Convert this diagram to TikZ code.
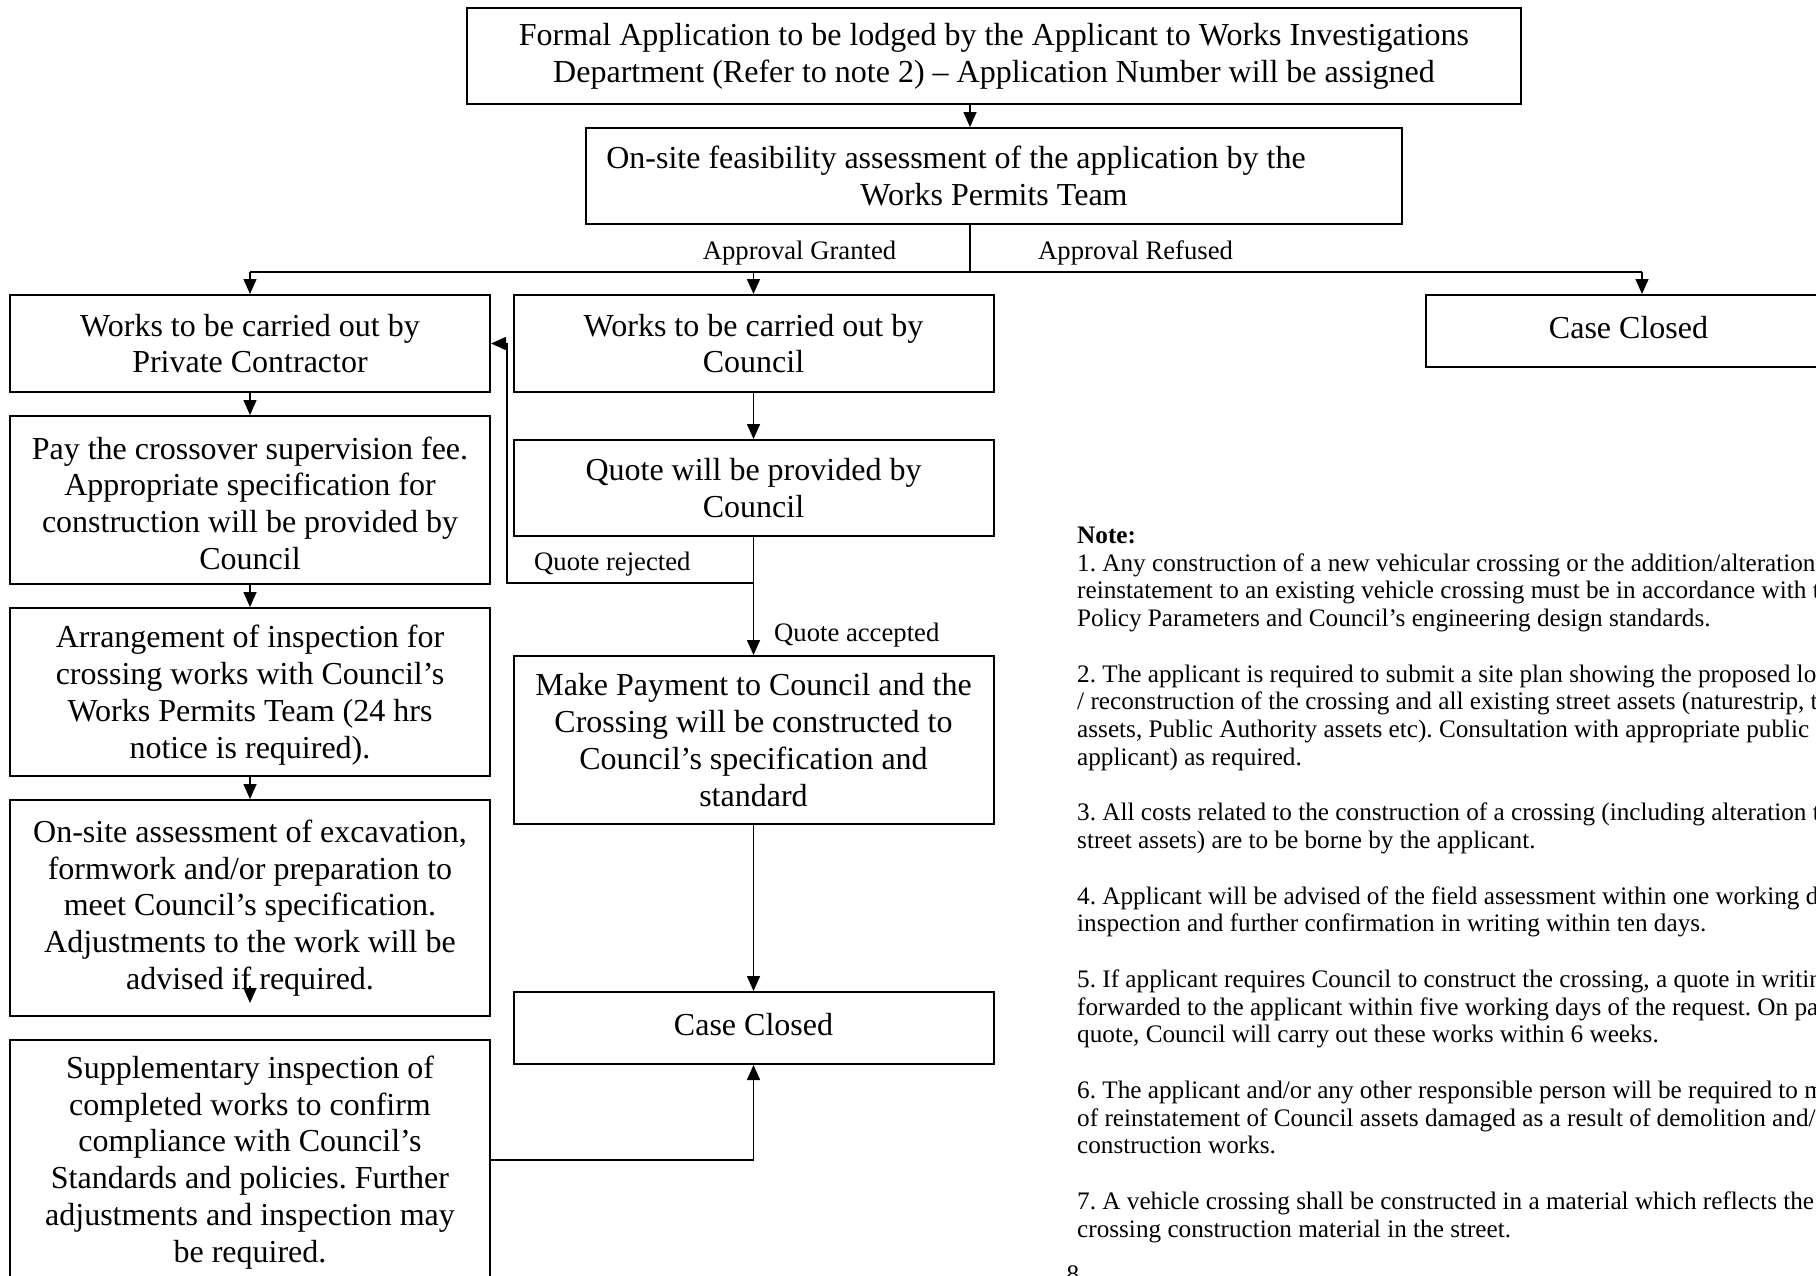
\documentclass[tikz,border=0pt]{standalone}
\usepackage{fontspec}
\setmainfont{Liberation Serif}
\usetikzlibrary{arrows.meta}
\frenchspacing
\tikzset{
  box/.style={draw, line width=2pt, inner sep=0pt, align=center,
    font=\fontsize{32}{36.8}\selectfont},
  lbl/.style={inner sep=0pt, font=\fontsize{26.67}{30}\selectfont},
  notefont/.style={inner sep=0pt, font=\fontsize{25.2}{27.75}\selectfont},
  conn/.style={line width=1.6pt},
  arr/.style={conn, -{Triangle[length=15pt,width=13pt]}},
}
\begin{document}
\begin{tikzpicture}[x=1pt,y=-1pt]
\useasboundingbox (0,0) rectangle (1816,1275);
\clip (0,0) rectangle (1816,1275);
\fill[white] (0,0) rectangle (1816,1275);

% boxes
\node[box, minimum width=1054pt, minimum height=96pt] (a) at (994,56)
  {Formal Application to be lodged by the Applicant to Works Investigations\\
   Department (Refer to note 2) -- Application Number will be assigned};
\node[box, minimum width=816pt, minimum height=96pt] (b) at (994,176)
  {On-site feasibility assessment of the application by the\hspace*{76pt}\mbox{}\\
   Works Permits Team};
\node[box, minimum width=480pt, minimum height=97pt] (c1) at (250,343.5)
  {Works to be carried out by\\Private Contractor};
\node[box, minimum width=480pt, minimum height=97pt] (c2) at (753.5,343.5)
  {Works to be carried out by\\Council};
\node[box, minimum width=405pt, minimum height=72pt] (r) at (1628.5,331)
  {Case Closed\strut};
\node[box, minimum width=480pt, minimum height=168pt] (d1) at (250,500)
  {\rule{0pt}{29pt}Pay the crossover supervision fee.\\Appropriate specification for\\
   construction will be provided by\\Council};
\node[box, minimum width=480pt, minimum height=96pt] (d2) at (753.5,488)
  {Quote will be provided by\\Council};
\node[box, minimum width=480pt, minimum height=168pt] (e1) at (250,692)
  {\rule{0pt}{29pt}Arrangement of inspection for\\crossing works with Council’s\\
   Works Permits Team (24 hrs\\notice is required).};
\node[box, minimum width=480pt, minimum height=168pt] (e2) at (753.5,740)
  {Make Payment to Council and the\\Crossing will be constructed to\\
   Council’s specification and\\standard};
\node[box, minimum width=480pt, minimum height=216pt] (f1) at (250,908)
  {On-site assessment of excavation,\\formwork and/or preparation to\\
   meet Council’s specification.\\Adjustments to the work will be\\
   advised if required.};
\node[box, minimum width=480pt, minimum height=245pt] (g1) at (250,1162.5)
  {Supplementary inspection of\\completed works to confirm\\
   compliance with Council’s\\Standards and policies. Further\\
   adjustments and inspection may\\be required.};
\node[box, minimum width=480pt, minimum height=72pt] (h2) at (753.5,1028)
  {Case Closed\strut};

% labels
\node[lbl, anchor=base west] (lg) at (702.7,259.3) {Approval Granted};
\node[lbl, anchor=base west] (lr) at (1038,259.3) {Approval Refused};
\node[lbl, anchor=base west] (lqr) at (534,570) {Quote rejected};
\node[lbl, anchor=base west] (lqa) at (774,641.7) {Quote accepted};

% connectors
\coordinate (ax) at (970,0);
\coordinate (split) at (970,272);
\coordinate (jl) at (250,272);
\coordinate (jr) at (1642,272);
\draw[arr] (a.south -| ax) -- (b.north -| ax);
\draw[conn] (b.south -| ax) -- (split);
\draw[conn] (jl) -- (jr);
\draw[arr] (jl) -- (c1.north);
\draw[arr] (c2.north |- split) -- (c2.north);
\draw[arr] (jr) -- (r.north -| jr);

\draw[arr] (c1.south) -- (d1.north);
\draw[arr] (d1.south) -- (e1.north);
\draw[arr] (e1.south) -- (f1.north);
\coordinate (fa) at (250,986);
\coordinate (fb) at (250,1003);
\draw[arr] (fa) -- (fb);

\draw[arr] (c2.south) -- (d2.north);
\draw[arr] (d2.south) -- (e2.north);
\coordinate (qj) at (753.5,583);
\coordinate (qx) at (507,583);
\draw[arr] (qj) -- (qx) |- (c1.east);
\draw[arr] (e2.south) -- (h2.north);
\coordinate (gy) at (0,1160);
\draw[arr] (g1.east |- gy) -| (h2.south);

% notes
\node[notefont, anchor=base west] (notes) at (1077,543.3) {\parbox[t]{1000pt}{%
\textbf{Note:}\\
1. Any construction of a new vehicular crossing or the addition/alteration or\\
reinstatement to an existing vehicle crossing must be in accordance with the\\
Policy Parameters and Council’s engineering design standards.\\[27.75pt]
2. The applicant is required to submit a site plan showing the proposed location\\
/ reconstruction of the crossing and all existing street assets (naturestrip, trees,\\
assets, Public Authority assets etc). Consultation with appropriate public authorities\\
applicant) as required.\\[27.75pt]
3. All costs related to the construction of a crossing (including alteration to\\
street assets) are to be borne by the applicant.\\[27.75pt]
4. Applicant will be advised of the field assessment within one working day\\
inspection and further confirmation in writing within ten days.\\[27.75pt]
5. If applicant requires Council to construct the crossing, a quote in writing\\
forwarded to the applicant within five working days of the request. On payment\\
quote, Council will carry out these works within 6 weeks.\\[27.75pt]
6. The applicant and/or any other responsible person will be required to meet\\
of reinstatement of Council assets damaged as a result of demolition and/or\\
construction works.\\[27.75pt]
7. A vehicle crossing shall be constructed in a material which reflects the\\
crossing construction material in the street.}};
\node[notefont, anchor=base] (pg) at (1073,1282) {8};
\end{tikzpicture}
\end{document}
